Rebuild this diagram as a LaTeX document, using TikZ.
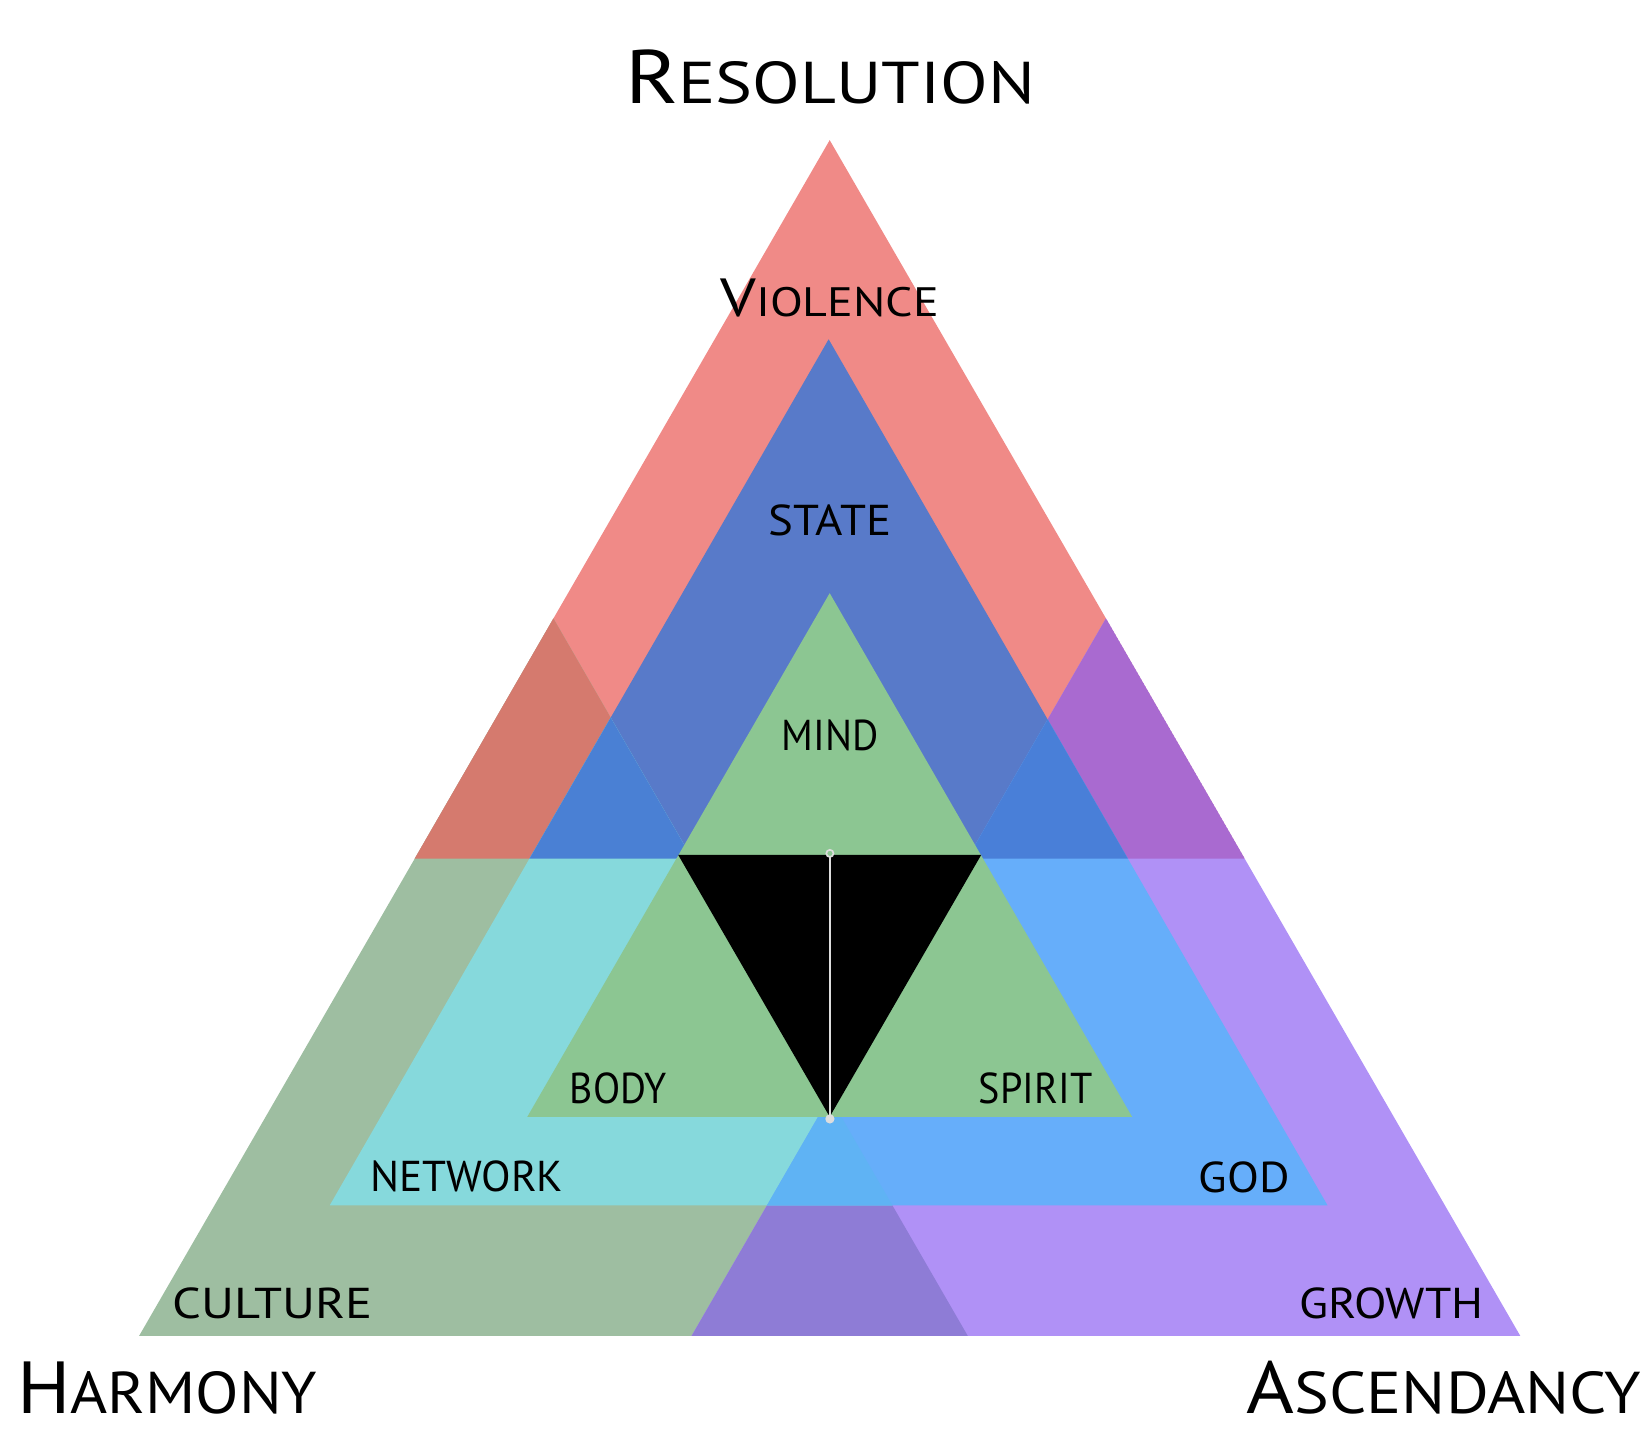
\documentclass[tikz,border=0pt]{standalone}
\usepackage{fontspec}
\usepackage{graphicx}
\setmainfont{PT Sans}
\definecolor{cR}{HTML}{F08A87}
\definecolor{cG}{HTML}{9EBEA1}
\definecolor{cP}{HTML}{B091F6}
\definecolor{cRG}{HTML}{D57A6E}
\definecolor{cRP}{HTML}{A96AD0}
\definecolor{cGP}{HTML}{8E7CD6}
\definecolor{cMR}{HTML}{587AC9}
\definecolor{cMRG}{HTML}{4A80D4}
\definecolor{cMRP}{HTML}{497FD8}
\definecolor{cMG}{HTML}{86D9DC}
\definecolor{cMP}{HTML}{66AEFA}
\definecolor{cMGP}{HTML}{5FB3F4}
\definecolor{cI}{HTML}{8CC692}
\definecolor{cLine}{HTML}{DDDDDD}
\newcommand\myfakesc[4]{{\fontsize{#1}{#1}\selectfont #3}{\fontsize{#2}{#2}\selectfont #4}}
\begin{document}
\begin{tikzpicture}[x=1pt,y=-1pt,
  lbl/.style={inner sep=0pt, anchor=base, text=black, font=\fontsize{41}{41}\selectfont},
  biglbl/.style={inner sep=0pt, text=black}]
\useasboundingbox (0,0) rectangle (1568,1373);
% outer triangles
\coordinate (Ra) at (787.5,133); \coordinate (Rb) at (393.6,815); \coordinate (Rc) at (1181.4,815);
\coordinate (Ga) at (525.3,587); \coordinate (Gb) at (132,1268); \coordinate (Gc) at (918.6,1268);
\coordinate (Pa) at (1049.7,587); \coordinate (Pb) at (656.4,1268); \coordinate (Pc) at (1443,1268);
% middle triangle
\coordinate (Ma) at (786.5,322); \coordinate (Mb) at (313,1144); \coordinate (Mc) at (1260,1144);
% inner triangle
\coordinate (Ia) at (787.5,563); \coordinate (Ib) at (500.5,1060); \coordinate (Ic) at (1074.5,1060);
\coordinate (Ka) at (643.75,811.5); \coordinate (Kb) at (931.25,811.5); \coordinate (Kc) at (787.5,1060);

% outer layer
\fill[cR] (Ra)--(Rb)--(Rc)--cycle;
\fill[cG] (Ga)--(Gb)--(Gc)--cycle;
\fill[cP] (Pa)--(Pb)--(Pc)--cycle;
\begin{scope}
  \clip (Ra)--(Rb)--(Rc)--cycle;
  \fill[cRG] (Ga)--(Gb)--(Gc)--cycle;
  \fill[cRP] (Pa)--(Pb)--(Pc)--cycle;
\end{scope}
\begin{scope}
  \clip (Ga)--(Gb)--(Gc)--cycle;
  \fill[cGP] (Pa)--(Pb)--(Pc)--cycle;
\end{scope}

% middle layer
\begin{scope}
  \clip (Ma)--(Mb)--(Mc)--cycle;
  \fill[cMR] (Ra)--(Rb)--(Rc)--cycle;
  \fill[cMG] (Ga)--(Gb)--(Gc)--cycle;
  \fill[cMP] (Pa)--(Pb)--(Pc)--cycle;
  \begin{scope}
    \clip (Ra)--(Rb)--(Rc)--cycle;
    \fill[cMRG] (Ga)--(Gb)--(Gc)--cycle;
    \fill[cMRP] (Pa)--(Pb)--(Pc)--cycle;
  \end{scope}
  \begin{scope}
    \clip (Ga)--(Gb)--(Gc)--cycle;
    \fill[cMGP] (Pa)--(Pb)--(Pc)--cycle;
  \end{scope}
\end{scope}

% inner layer
\fill[cI] (Ia)--(Ib)--(Ic)--cycle;
\fill[black] (Ka)--(Kb)--(Kc)--cycle;

% centre line
\coordinate (ptop) at (787.7,810);
\coordinate (pbot) at (787.7,1062);
\draw[cLine, line width=2.2pt] ([yshift=-3.4pt]ptop) -- (pbot);
\draw[cLine, line width=1.6pt, fill=cI] (ptop) circle (3.4);
\fill[cLine] (pbot) circle (4.4);

% labels
\node[biglbl, anchor=base] (res) at (788,98) {\scalebox{1.18}[1]{\myfakesc{72}{56}{R}{ESOLUTION}}};
\node[biglbl, anchor=base west] (har) at (16,1342) {\scalebox{1.077}[1]{\myfakesc{70}{56}{H}{ARMONY}}};
\node[biglbl, anchor=base east] (asc) at (1558,1342) {\scalebox{1.11}[1]{\myfakesc{70}{56}{A}{SCENDANCY}}};
\node[biglbl, anchor=base] (vio) at (787.5,300) {\scalebox{1.17}[1]{\myfakesc{51}{39}{V}{IOLENCE}}};
\node[lbl] (state) at (787.5,508) {\scalebox{1.085}[1]{STATE}};
\node[lbl] (mind) at (788,712) {\scalebox{0.93}[1]{MIND}};
\node[lbl] (body) at (587,1047) {\scalebox{0.92}[1]{BODY}};
\node[lbl] (spirit) at (983,1047) {\scalebox{0.93}[1]{SPIRIT}};
\node[lbl] (network) at (443,1131) {NETWORK};
\node[lbl] (god) at (1181,1132) {\scalebox{1.08}[1]{GOD}};
\node[lbl] (culture) at (259,1251) {\scalebox{1.17}[1]{CULTURE}};
\node[lbl] (growth) at (1320.5,1251) {\scalebox{1.10}[1]{GROWTH}};
\end{tikzpicture}
\end{document}
